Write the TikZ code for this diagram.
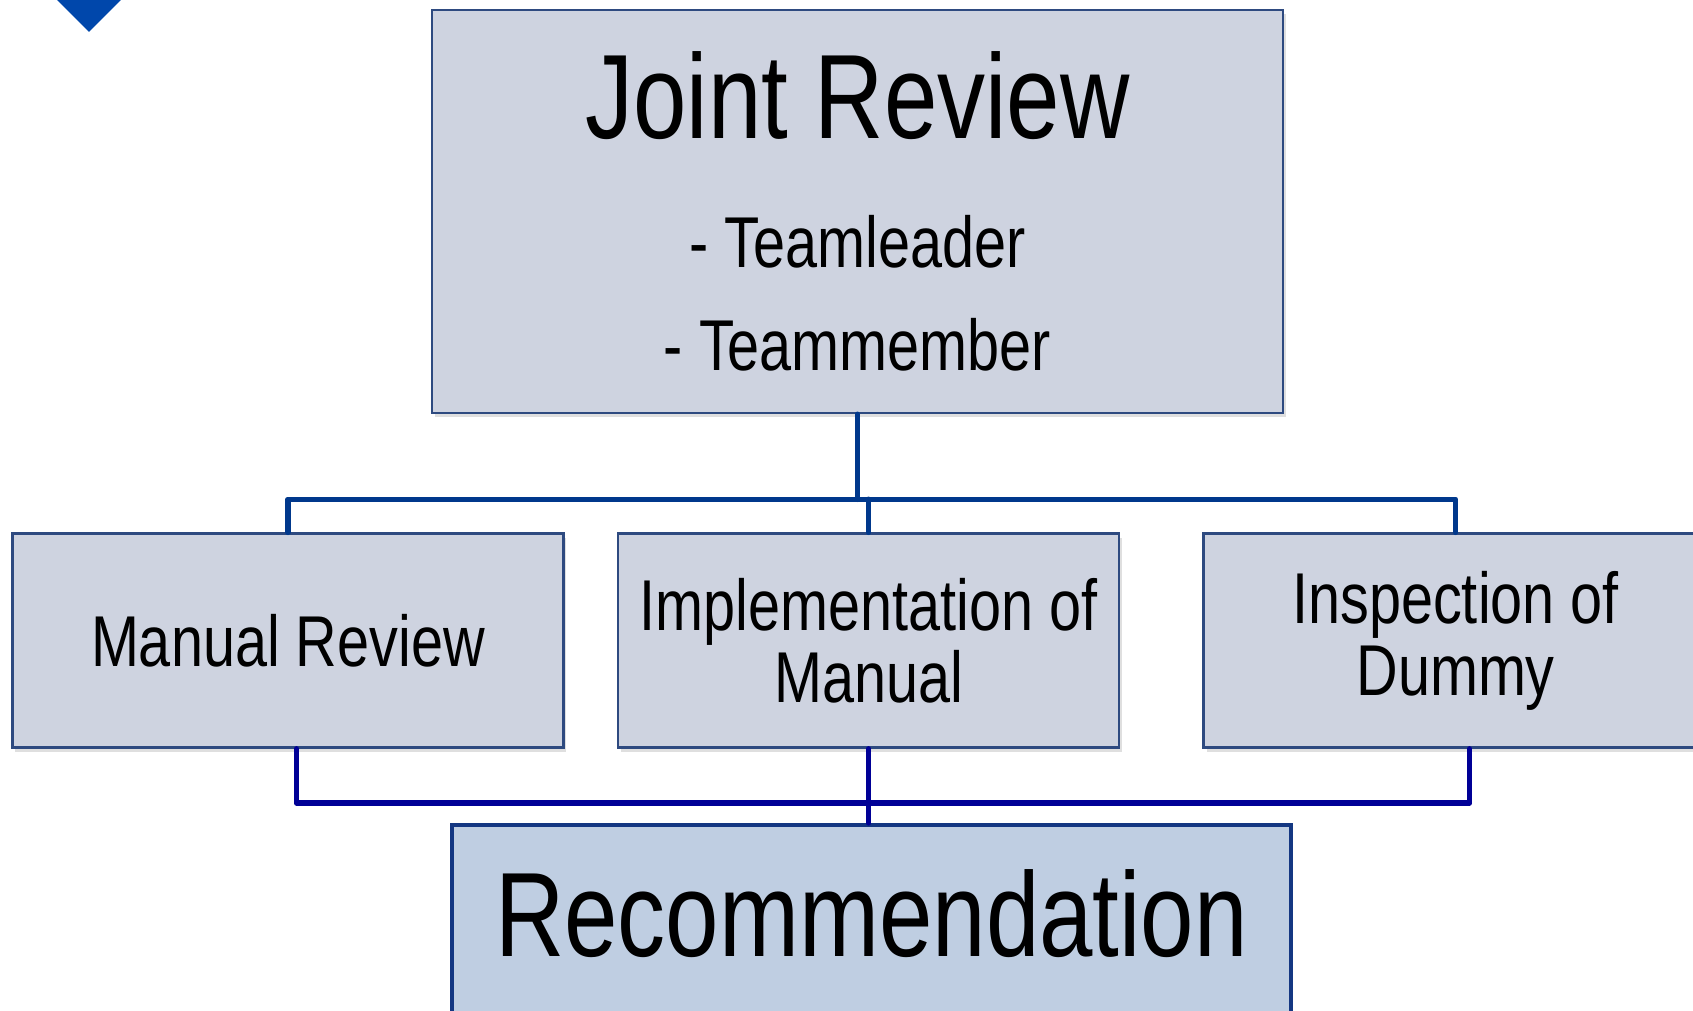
\documentclass[tikz,border=0pt]{standalone}
\usepackage{fontspec}
\setmainfont{Liberation Sans}[FakeStretch=0.8]
\usetikzlibrary{positioning,shadows}
\definecolor{boxfill}{RGB}{206,211,224}
\definecolor{recofill}{RGB}{191,206,226}
\definecolor{boxline}{RGB}{46,74,128}
\definecolor{recoline}{RGB}{20,55,130}
\definecolor{topbus}{RGB}{0,56,140}
\definecolor{lowbus}{RGB}{0,0,150}
\definecolor{markblue}{RGB}{0,71,171}

\begin{document}
\begin{tikzpicture}[main box/.style={rectangle,draw=boxline,fill=boxfill,line width=1.3pt,drop shadow={shadow xshift=1.5pt,shadow yshift=-2pt,opacity=0.25},align=center,inner sep=0pt,font=\fontsize{36}{36}\selectfont},result box/.style={rectangle,draw=recoline,fill=recofill,line width=2pt,inner sep=0pt,minimum width=419.5pt,text height=66pt,text depth=45pt,font=\fontsize{60}{60}\selectfont},bus/.style={line width=2.8pt,line cap=round,line join=round}]

        \useasboundingbox (0,0) rectangle (846.5pt,-505.5pt);
        \fill[markblue] (28.5pt,0) -- (44.5pt,-16pt) -- (60.5pt,0) -- (44.5pt,16pt) -- cycle;

        \node[main box,minimum width=425.5pt,minimum height=201.5pt] (joint) at (428.75pt,-105.75pt) {{\fontsize{60}{60}\selectfont Joint Review}\\[28.5pt]- Teamleader\\[15.5pt]- Teammember};
        \node[main box,minimum width=250.5pt,minimum height=107pt] (impl) [below=59pt of joint,xshift=5.5pt] {Implementation of\\Manual};
        \node[main box,minimum width=275.5pt,minimum height=107pt] (manual) [left=26pt of impl] {Manual Review};
        \node[main box,minimum width=252pt,minimum height=107pt] (insp) [right=41pt of impl] {Inspection of\\Dummy};
        \node[result box] (reco) [below=37pt of impl,xshift=1.5pt] {Recommendation};

        \draw[bus,topbus] (joint.south) -- ++(0,-42.5pt) coordinate (hub);
        \draw[bus,topbus] (manual.north) |- (hub) -| (insp.north);
        \draw[bus,topbus] (impl.north) -- (impl.north |- hub);
        \draw[bus,lowbus] ([xshift=4.25pt]manual.south) -- ++(0,-27pt) -| ([xshift=7pt]insp.south);
        \draw[bus,lowbus] (impl.south) -- (impl.south |- reco.north);
    \end{tikzpicture}
\end{document}
